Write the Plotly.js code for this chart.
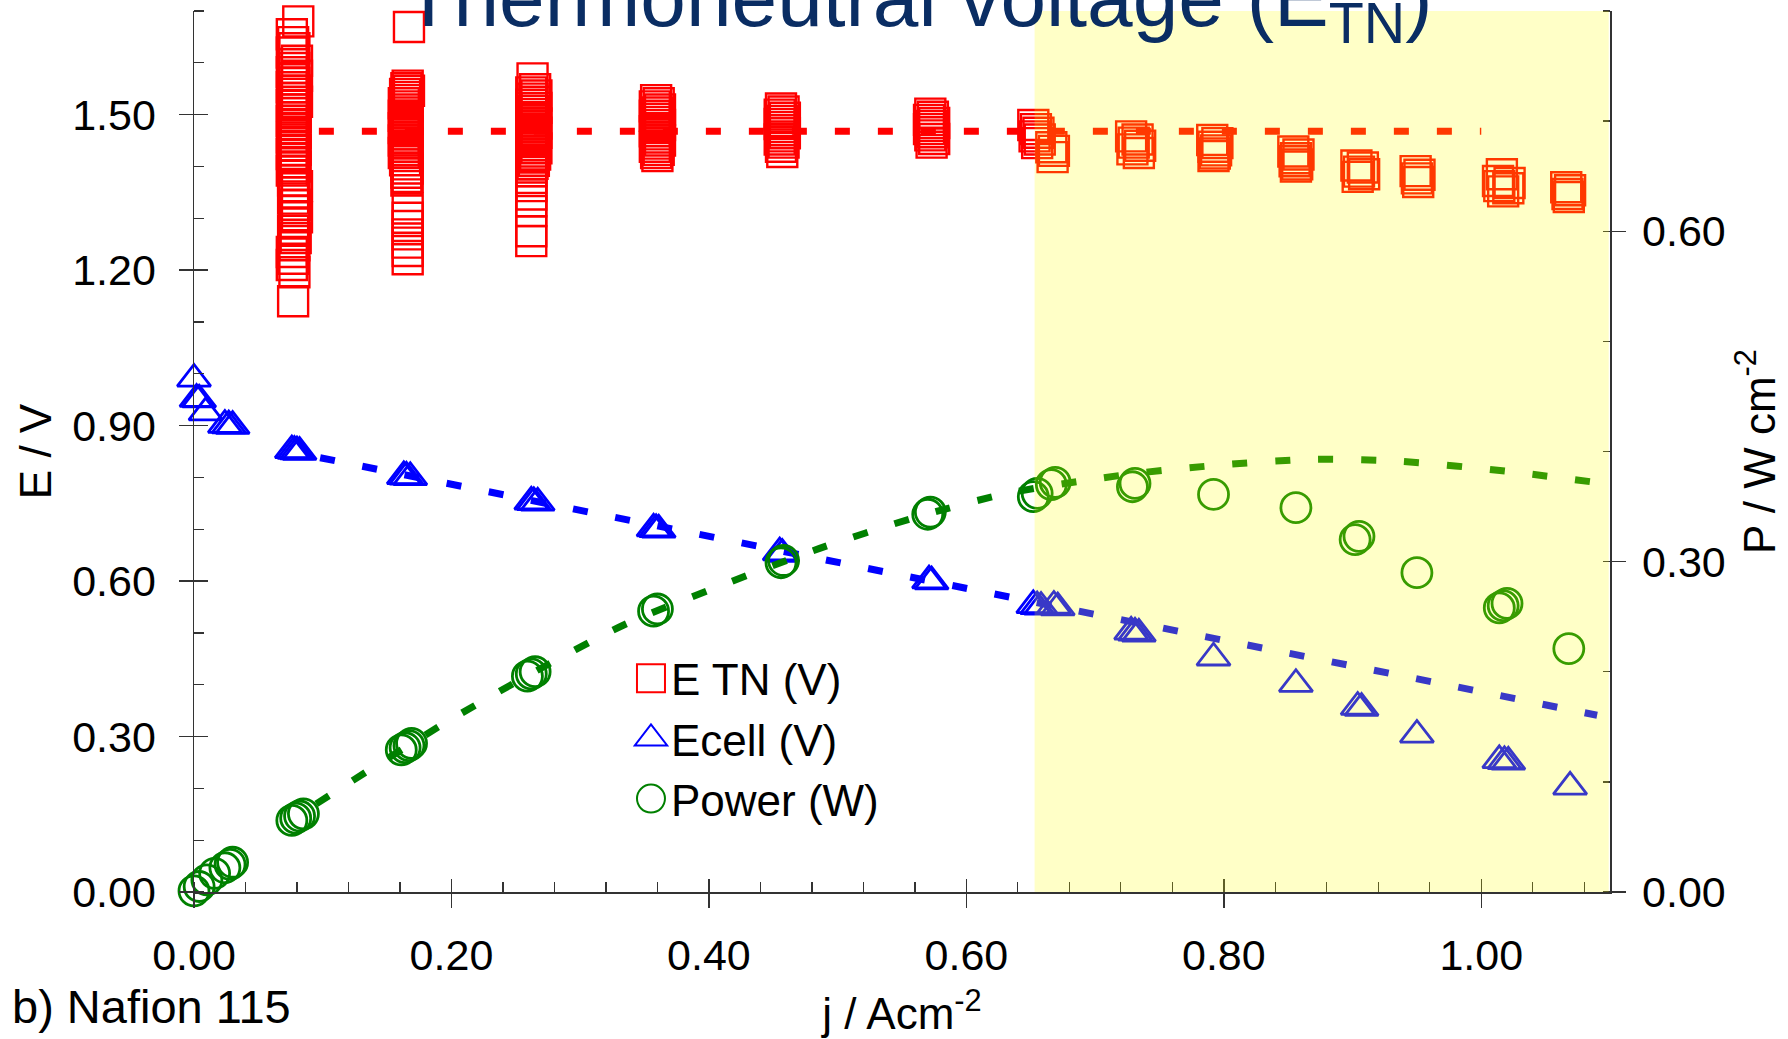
<!DOCTYPE html>
<html><head><meta charset="utf-8">
<script src="https://cdn.plot.ly/plotly-3.0.1.min.js"></script>
<style>html,body{margin:0;padding:0;background:#fff;} #chart{width:1788px;height:1039px;}</style>
</head><body><div id="chart"></div>
<script>
// ---- Thermoneutral voltage E_TN (V), grouped by current-density column ----
const etnJ = [
  [0.081,0.076,0.077,0.078,0.076,0.080,0.077,0.078,0.076,0.080,
   0.077,0.078,0.076,0.079,0.077,0.078,0.080,0.076,0.078,0.077,
   0.079,0.076,0.078,0.077,0.079,0.076,0.078,0.077,0.079,0.076,
   0.078,0.077,0.079,0.076,0.078,0.077,0.080,0.078,0.077,0.079,
   0.078,0.080,0.078,0.077,0.079,0.078,0.076,0.077,0.076,0.078,0.077],
  [0.167,0.166,0.165,0.167,0.164,0.166,0.165,0.163,0.166,0.164,
   0.165,0.163,0.166,0.164,0.165,0.163,0.166,0.164,0.165,0.163,
   0.166,0.164,0.165,0.163,0.166,0.164,0.165,0.166,0.165,0.166,
   0.165,0.166,0.166,0.166,0.166,0.166,0.166,0.166],
  [0.263,0.265,0.262,0.266,0.263,0.265,0.262,0.266,0.264,0.262,
   0.265,0.263,0.266,0.262,0.264,0.266,0.263,0.265,0.262,0.264,
   0.266,0.263,0.265,0.262,0.264,0.263,0.262,0.262,0.262,0.262,
   0.262,0.262,0.262,0.262,0.262],
  [0.359,0.361,0.358,0.362,0.360,0.358,0.361,0.359,0.362,0.360,
   0.358,0.361,0.359,0.362,0.360,0.358,0.361,0.359,0.360],
  [0.456,0.458,0.455,0.459,0.457,0.455,0.458,0.456,0.459,0.457,0.455,0.458,0.456,0.457],
  [0.572,0.574,0.571,0.575,0.573,0.571,0.574,0.572,0.575,0.573],
  [0.652,0.654,0.656,0.653,0.657,0.655,0.666,0.668,0.667],
  [0.728,0.733,0.730,0.735,0.729,0.734],
  [0.791,0.795,0.792,0.794,0.793,0.792],
  [0.854,0.858,0.856,0.855,0.857,0.856],
  [0.903,0.908,0.905,0.909,0.904],
  [0.949,0.952,0.950,0.951],
  [1.016,1.013,1.022,1.014,1.021,1.017],
  [1.066,1.069,1.067,1.068]
];
const etnE = [
  [1.680,1.655,1.640,1.628,1.620,1.604,1.598,1.590,1.582,1.575,
   1.568,1.561,1.553,1.546,1.540,1.532,1.525,1.518,1.510,1.503,
   1.495,1.488,1.480,1.472,1.464,1.456,1.448,1.440,1.432,1.424,
   1.416,1.408,1.400,1.392,1.383,1.373,1.362,1.350,1.338,1.326,
   1.314,1.302,1.290,1.276,1.262,1.248,1.235,1.222,1.210,1.196,1.140],
  [1.669,1.556,1.551,1.546,1.540,1.534,1.528,1.522,1.516,1.510,
   1.504,1.498,1.492,1.486,1.480,1.474,1.468,1.462,1.456,1.450,
   1.444,1.438,1.432,1.426,1.420,1.412,1.404,1.396,1.388,1.380,
   1.373,1.319,1.301,1.285,1.269,1.253,1.237,1.221],
  [1.570,1.549,1.543,1.537,1.531,1.525,1.519,1.513,1.507,1.501,
   1.495,1.489,1.483,1.477,1.471,1.465,1.459,1.453,1.447,1.441,
   1.435,1.429,1.423,1.417,1.411,1.405,1.398,1.391,1.378,1.362,
   1.346,1.333,1.314,1.275,1.256],
  [1.528,1.522,1.516,1.510,1.504,1.498,1.492,1.486,1.480,1.474,
   1.468,1.462,1.456,1.450,1.444,1.438,1.432,1.426,1.420],
  [1.512,1.506,1.500,1.494,1.488,1.482,1.476,1.470,1.464,1.458,1.452,1.446,1.438,1.428],
  [1.502,1.496,1.490,1.484,1.478,1.472,1.466,1.460,1.453,1.446],
  [1.480,1.472,1.465,1.458,1.452,1.445,1.437,1.430,1.418],
  [1.458,1.452,1.446,1.440,1.433,1.426],
  [1.451,1.445,1.438,1.431,1.425,1.420],
  [1.429,1.423,1.416,1.410,1.404,1.400],
  [1.402,1.398,1.390,1.385,1.380],
  [1.391,1.384,1.377,1.370],
  [1.385,1.372,1.368,1.362,1.358,1.352],
  [1.360,1.354,1.347,1.341]
];

// ---- Cell voltage Ecell (V) ----
const ecellJ = [0.000,0.002,0.004,0.009,0.024,0.027,0.030,0.076,0.078,0.080,0.082,
  0.163,0.165,0.168,0.262,0.264,0.267,0.357,0.359,0.361,0.455,0.457,0.571,0.573,
  0.652,0.655,0.658,0.668,0.671,0.728,0.731,0.734,0.792,0.856,0.904,0.907,0.950,
  1.014,1.018,1.021,1.069];
const ecellE = [0.990,0.951,0.950,0.925,0.901,0.900,0.899,0.852,0.851,0.850,0.849,
  0.802,0.801,0.800,0.753,0.752,0.751,0.701,0.700,0.699,0.655,0.652,0.601,0.599,
  0.553,0.551,0.550,0.552,0.549,0.502,0.500,0.498,0.452,0.401,0.357,0.355,0.303,
  0.254,0.252,0.251,0.203];

// ---- Power density (W cm-2), right axis ----
const powerJ = [0.000,0.004,0.010,0.016,0.024,0.028,0.030,0.076,0.079,0.082,0.085,
  0.161,0.164,0.167,0.169,0.259,0.262,0.265,0.357,0.360,0.456,0.458,0.570,0.572,
  0.652,0.655,0.666,0.669,0.729,0.731,0.792,0.856,0.902,0.905,0.950,
  1.014,1.017,1.020,1.068];
const powerP = [0.001,0.005,0.011,0.017,0.022,0.025,0.027,0.065,0.067,0.069,0.071,
  0.129,0.131,0.133,0.135,0.196,0.198,0.200,0.255,0.257,0.299,0.301,0.343,0.345,
  0.359,0.362,0.370,0.372,0.368,0.371,0.361,0.349,0.320,0.323,0.290,
  0.258,0.260,0.262,0.221];

// ---- fitted trend lines ----
const etnFitJ = [0.097, 1.000];
const etnFitE = [1.468, 1.468];
const ecellFitJ = [0.098, 0.327, 0.491, 0.621, 0.785, 0.947, 1.090];
const ecellFitE = [0.838, 0.722, 0.641, 0.574, 0.493, 0.413, 0.341];
const powerFitJ = [0.095, 0.150, 0.200, 0.260, 0.333, 0.400, 0.486, 0.560, 0.632, 0.700, 0.738, 0.800, 0.871, 0.938, 1.020, 1.095];
const powerFitP = [0.080, 0.121, 0.157, 0.197, 0.242, 0.274, 0.312, 0.340, 0.362, 0.375, 0.381, 0.388, 0.393, 0.391, 0.382, 0.371];

// ---- axis ticks / labels ----
const xRange = [0, 1.10];
const yRange = [0, 1.70];
const y2Range = [0, 0.80];
const shadeRange = [0.653, 1.099];
const titleText = 'Thermoneutral voltage (E<sub>TN</sub>)';
const panelLabel = 'b) Nafion 115';

const FONT = 'Liberation Sans, Arial, Helvetica, sans-serif';
const AX = '#333333';
const dashStyle = '15px,28px';

const traces = [
  {x: etnJ.flat(), y: etnE.flat(), type: 'scatter', mode: 'markers', name: 'E TN (V)',
   cliponaxis: false,
   marker: {symbol: 'square-open', size: 30, color: '#ff0000', line: {width: 2.4, color: '#ff0000'}}},
  {x: ecellJ, y: ecellE, type: 'scatter', mode: 'markers', name: 'Ecell (V)',
   cliponaxis: false,
   marker: {symbol: 'triangle-up-open', size: 29, color: '#0000ff', line: {width: 2.8, color: '#0000ff'}}},
  {x: powerJ, y: powerP, type: 'scatter', mode: 'markers', name: 'Power (W)', yaxis: 'y2',
   cliponaxis: false,
   marker: {symbol: 'circle-open', size: 30, color: '#008000', line: {width: 2.8, color: '#008000'}}},
  {x: etnFitJ, y: etnFitE, type: 'scatter', mode: 'lines', showlegend: false, hoverinfo: 'skip',
   line: {color: '#ff0000', width: 7, dash: dashStyle}},
  {x: ecellFitJ, y: ecellFitE, type: 'scatter', mode: 'lines', showlegend: false, hoverinfo: 'skip',
   line: {color: '#0000ff', width: 7, dash: dashStyle}},
  {x: powerFitJ, y: powerFitP, type: 'scatter', mode: 'lines', showlegend: false, hoverinfo: 'skip', yaxis: 'y2',
   line: {color: '#008000', width: 7, dash: dashStyle, shape: 'spline', smoothing: 0.8}},
  // empty helper traces so the inside-tick overlay axes are drawn
  {x: [], y: [], xaxis: 'x2', yaxis: 'y3', type: 'scatter', mode: 'markers', showlegend: false, hoverinfo: 'skip'},
  {x: [], y: [], xaxis: 'x', yaxis: 'y4', type: 'scatter', mode: 'markers', showlegend: false, hoverinfo: 'skip'}
];

const tickFont = {family: FONT, size: 43, color: '#000'};
const titleFont = {family: FONT, size: 44, color: '#000'};

const layout = {
  width: 1788, height: 1039,
  margin: {l: 194, r: 178, t: 11, b: 147, pad: 0},
  paper_bgcolor: '#ffffff', plot_bgcolor: '#ffffff',
  font: {family: FONT, color: '#000'},
  showlegend: true,
  title: {text: titleText, font: {family: FONT, size: 82, color: '#0a2d63'},
          xref: 'container', yref: 'container', x: 0.5134, xanchor: 'center', y: 0.975, yanchor: 'bottom', pad: {t:0,b:0,l:0,r:0}},
  xaxis: {range: xRange, tickmode: 'linear', tick0: 0, dtick: 0.2, tickformat: '.2f',
          ticks: 'outside', ticklen: 14, tickwidth: 1.5, tickcolor: AX,
          minor: {dtick: 0.04, tick0: 0, ticks: 'inside', ticklen: 10, tickwidth: 1.3, tickcolor: AX, showgrid: false},
          showline: true, linecolor: AX, linewidth: 1.5, showgrid: false, zeroline: false,
          tickfont: tickFont, ticklabelstandoff: 11,
          title: {text: 'j / Acm<sup>-2</sup>', font: titleFont, standoff: 20}},
  xaxis2: {range: xRange, overlaying: 'x', anchor: 'y', side: 'bottom', tickmode: 'linear', tick0: 0, dtick: 0.2,
          ticks: 'inside', ticklen: 13, tickwidth: 1.5, tickcolor: AX, showticklabels: false,
          showline: false, showgrid: false, zeroline: false},
  yaxis: {range: yRange, tickmode: 'linear', tick0: 0, dtick: 0.3, tickformat: '.2f',
          ticks: 'outside', ticklen: 14, tickwidth: 1.5, tickcolor: AX,
          minor: {dtick: 0.1, tick0: 0, ticks: 'inside', ticklen: 10, tickwidth: 1.3, tickcolor: AX, showgrid: false},
          showline: true, linecolor: AX, linewidth: 1.5, showgrid: false, zeroline: false,
          tickfont: tickFont, ticklabelstandoff: 14,
          title: {text: 'E / V', font: titleFont, standoff: 7}},
  yaxis3: {range: yRange, overlaying: 'y', anchor: 'x', side: 'left', tickmode: 'linear', tick0: 0, dtick: 0.3,
          ticks: 'inside', ticklen: 14, tickwidth: 1.5, tickcolor: AX, showticklabels: false,
          showline: false, showgrid: false, zeroline: false},
  yaxis2: {range: y2Range, overlaying: 'y', anchor: 'x', side: 'right', tickmode: 'linear', tick0: 0, dtick: 0.3, tickformat: '.2f',
          ticks: 'outside', ticklen: 14, tickwidth: 1.5, tickcolor: AX,
          minor: {dtick: 0.1, tick0: 0, ticks: 'inside', ticklen: 7, tickwidth: 1.3, tickcolor: AX, showgrid: false},
          showline: true, linecolor: AX, linewidth: 1.5, showgrid: false, zeroline: false,
          tickfont: tickFont, ticklabelstandoff: 8,
          title: {text: 'P / W cm<sup>-2</sup>', font: titleFont, standoff: 19}},
  yaxis4: {range: y2Range, overlaying: 'y', anchor: 'x', side: 'right', tickmode: 'linear', tick0: 0, dtick: 0.3,
          ticks: 'inside', ticklen: 7, tickwidth: 1.5, tickcolor: AX, showticklabels: false,
          showline: false, showgrid: false, zeroline: false},
  legend: {x: 0.3086, y: 0.2825, xanchor: 'left', yanchor: 'top', bgcolor: 'rgba(0,0,0,0)', borderwidth: 0,
           font: {family: FONT, size: 44, color: '#000'}, traceorder: 'normal'},
  shapes: [
    {type: 'rect', xref: 'x', yref: 'paper', x0: shadeRange[0], x1: shadeRange[1], y0: 0, y1: 1,
     fillcolor: 'rgba(255,255,0,0.22)', line: {width: 0}, layer: 'above'}
  ],
  annotations: [
    {text: panelLabel, xref: 'paper', yref: 'paper', x: -0.1299, y: -0.1296, xanchor: 'left', yanchor: 'middle',
     showarrow: false, font: {family: FONT, size: 47, color: '#000'}}
  ]
};

Plotly.newPlot('chart', traces, layout, {staticPlot: true, displayModeBar: false}).then(function(gd) {
  gd.querySelectorAll('.legend .legendpoints path.scatterpts').forEach(function(p) {
    var t = p.getAttribute('transform') || '';
    p.setAttribute('transform', t + ' scale(1.75)');
    p.style.vectorEffect = 'non-scaling-stroke';
    p.style.strokeWidth = '2px';
  });
});
</script></body></html>
